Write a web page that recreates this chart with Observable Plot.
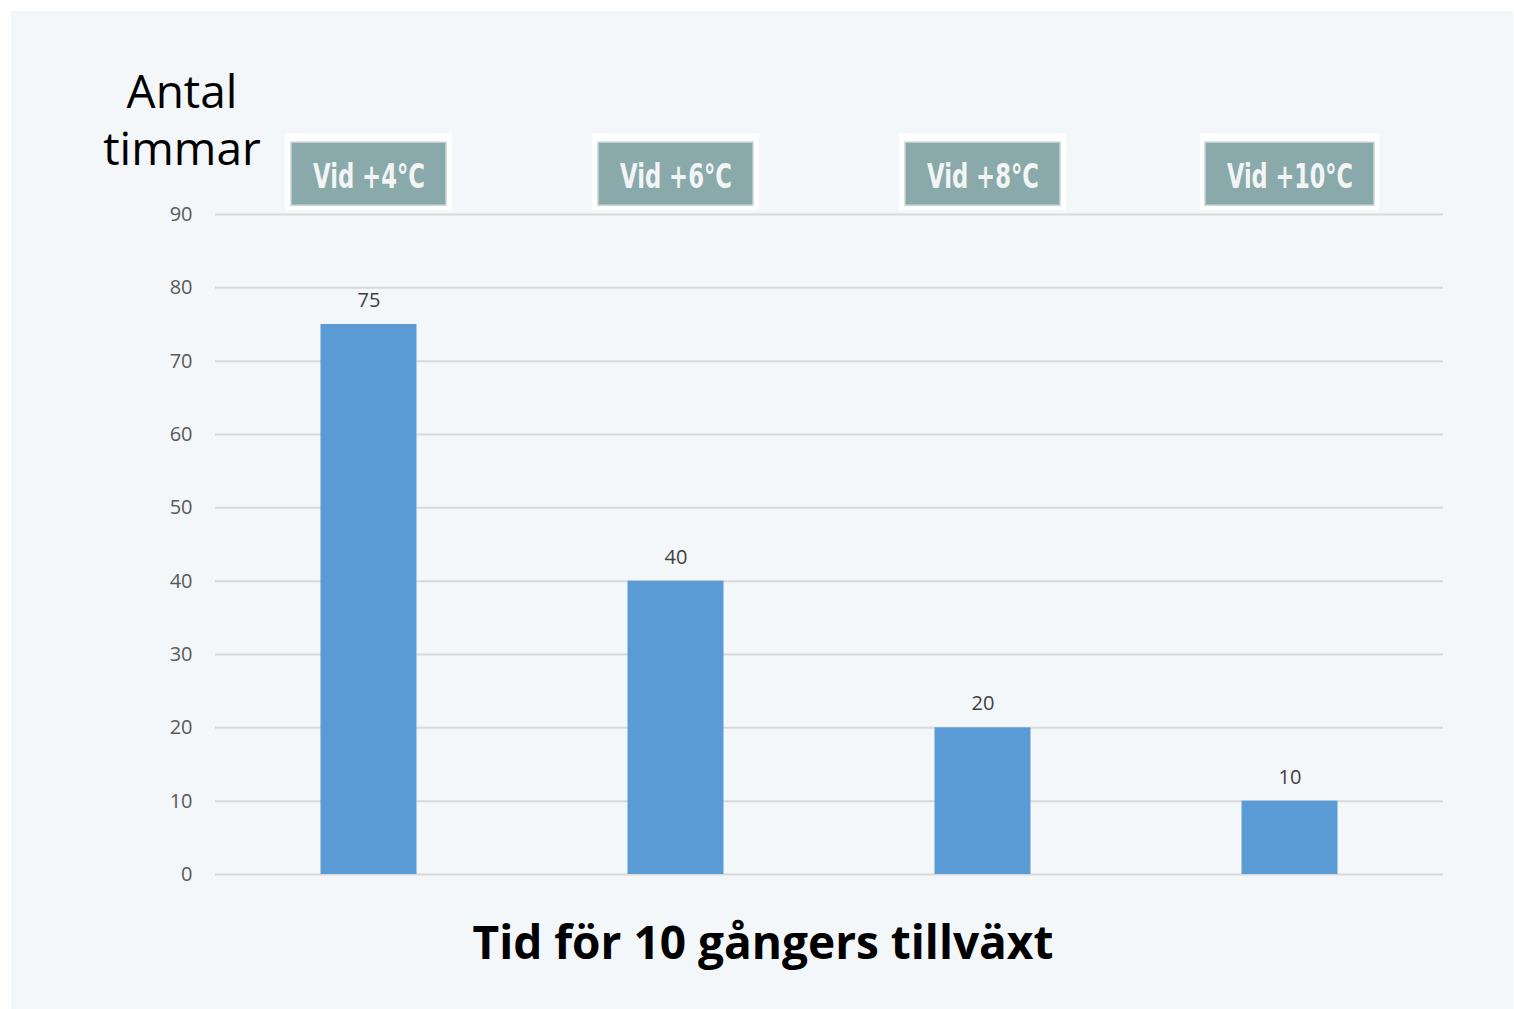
<!DOCTYPE html>
<html>
<head>
<meta charset="utf-8">
<script src="https://cdn.jsdelivr.net/npm/d3@7"></script>
<script src="https://cdn.jsdelivr.net/npm/@observablehq/plot@0.6"></script>
<style>
  html, body { margin: 0; padding: 0; background: #ffffff; }
  #wrap { position: relative; width: 1514px; height: 1009px; overflow: hidden; }
  #panel { position: absolute; left: 11px; top: 11px; width: 1502px; height: 998px; background: #f3f7fa; }
  #chart { position: absolute; left: 0; top: 0; }
  .ytitle { position: absolute; left: 82px; top: 62px; width: 200px; text-align: center;
            font-family: "Open Sans", "Noto Sans", sans-serif; font-size: 46px; line-height: 57px; color: #000; }
  .title { position: absolute; left: 0; width: 1526px; top: 910px; text-align: center;
           font-family: "Open Sans", "Noto Sans", sans-serif; font-weight: 700; font-size: 46px; color: #000; }
</style>
</head>
<body>
<div id="wrap">
  <div id="panel"></div>
  <div id="chart"></div>
  <div class="ytitle">Antal<br>timmar</div>
  <div class="title">Tid för 10 gångers tillväxt</div>
</div>
<script>
const categories = ["Vid +4°C", "Vid +6°C", "Vid +8°C", "Vid +10°C"];
const hours = [75, 40, 20, 10];
const yTicks = [0, 10, 20, 30, 40, 50, 60, 70, 80, 90];

const data = categories.map((c, i) => ({category: c, value: hours[i]}));
const narrow = data.filter(d => d.category.length < 9);
const wide = data.filter(d => d.category.length >= 9);

const font = '"Open Sans", "Noto Sans", sans-serif';
const labelFont = '"DejaVu Sans Condensed", "DejaVu Sans", sans-serif';

const chart = Plot.plot({
  width: 1514,
  height: 1009,
  marginTop: 214,
  marginBottom: 135,
  marginLeft: 215,
  marginRight: 71,
  style: {background: "transparent", fontFamily: font, overflow: "visible"},
  x: {domain: categories, padding: 0, axis: null},
  y: {domain: [0, 90], ticks: yTicks, tickSize: 0, tickPadding: 23, label: null},
  marks: [
    Plot.ruleY(yTicks, {stroke: "#d9d9d9", strokeWidth: 2}),
    Plot.axisY({ticks: yTicks, tickSize: 0, tickPadding: 23, label: null, fontSize: 20, color: "#595959", tickFormat: d => String(d)}),
    Plot.barY(data, {x: "category", y: "value", fill: "#5b9bd5", insetLeft: 105.5, insetRight: 105.5}),
    Plot.text(data, {x: "category", y: "value", text: d => String(d.value), dy: -24, fontSize: 20, fill: "#404040"}),
    // category label boxes above the plot
    Plot.barY(narrow, {x: "category", y1: 90.5, y2: 101, fill: "#ffffff", insetLeft: 70, insetRight: 70}),
    Plot.barY(wide, {x: "category", y1: 90.5, y2: 101, fill: "#ffffff", insetLeft: 64, insetRight: 64}),
    Plot.barY(narrow, {x: "category", y1: 91.2, y2: 99.8, fill: "#8aa9aa", stroke: "#c8d6d6", strokeWidth: 1.5, insetLeft: 76, insetRight: 76}),
    Plot.barY(wide, {x: "category", y1: 91.2, y2: 99.8, fill: "#8aa9aa", stroke: "#c8d6d6", strokeWidth: 1.5, insetLeft: 69, insetRight: 69}),
    Plot.text(data, {x: "category", y: 95.1, text: "category", fill: "#f2f5f5", fontSize: 34,
      fontFamily: labelFont, fontWeight: "bold"})
  ]
});
d3.select(chart).selectAll("text")
  .filter(function() { return categories.includes(this.textContent); })
  .each(function() {
    const t = this.textContent;
    this.setAttribute("textLength", String(t.length * 14));
    this.setAttribute("lengthAdjust", "spacingAndGlyphs");
  });
document.getElementById("chart").appendChild(chart);
</script>
</body>
</html>
